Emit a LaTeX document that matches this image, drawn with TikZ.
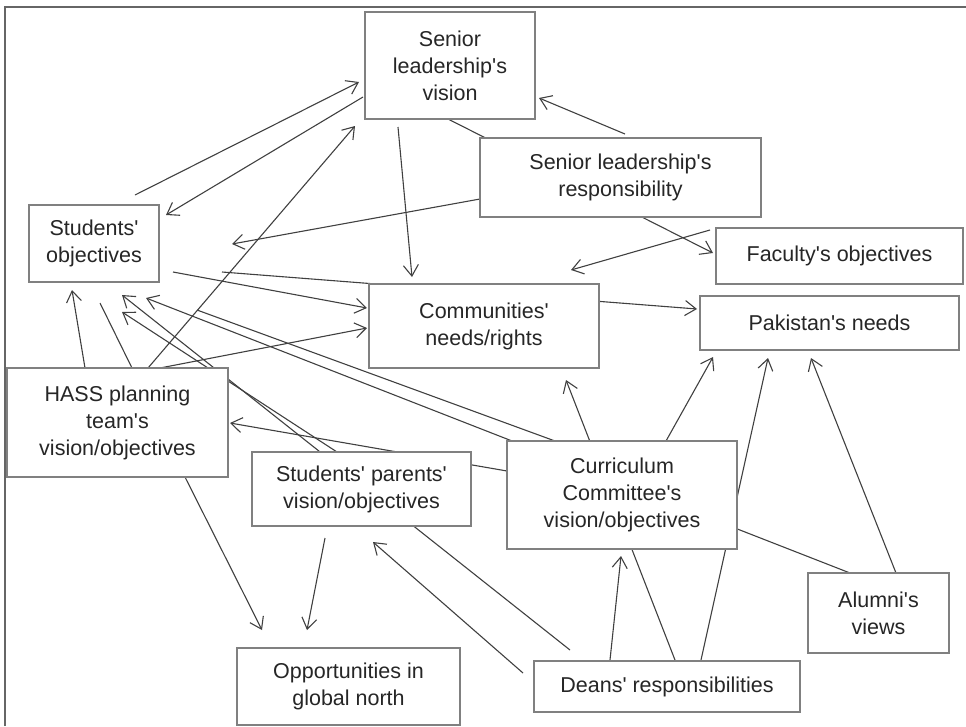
\documentclass[tikz,border=0pt]{standalone}
\usepackage{fontspec}
\setmainfont{Liberation Sans}[Ligatures=TeXOff]
\usetikzlibrary{arrows.meta,backgrounds}

\begin{document}
\begin{tikzpicture}[x=1pt,y=-1pt]
		\tikzstyle{box}=[draw=black!50,line width=1.4pt,fill=white,anchor=north west,outer sep=0pt,inner sep=2pt,align=center,text=black!85,font=\fontsize{21.5}{27}\selectfont]
		\tikzstyle{link}=[draw=black!75,line width=1.1pt]
		\tikzstyle{arrow}=[link,-{Straight Barb[length=11pt,width=15pt]}]

		\useasboundingbox (0,0) rectangle (966,726);
			% frame round the figure
		\draw[black!60,line width=1.5pt] (5,726) -- (5,7) -- (966,7);

			% Draw the boxes
		\node[box,minimum width=170,minimum height=107] (SLV) at (365,12) {Senior\\leadership's\\vision};
		\node[box,minimum width=281,minimum height=79] (SLR) at (480,138) {Senior leadership's\\responsibility};
		\node[box,minimum width=247,minimum height=56] (FO) at (716,228) {Faculty's objectives};
		\node[box,minimum width=259,minimum height=54] (PN) at (700,296) {Pakistan's needs};
		\node[box,minimum width=230,minimum height=84] (CNR) at (369,284) {Communities'\\needs/rights};
		\node[box,minimum width=130,minimum height=77] (SO) at (29,205) {Students'\\objectives};
		\node[box,minimum width=221,minimum height=109] (HASS) at (7,368) {HASS planning\\team's\\vision/objectives};
		\node[box,minimum width=219,minimum height=74] (SPV) at (252,452) {Students' parents'\\vision/objectives};
		\node[box,minimum width=230,minimum height=108] (CC) at (507,441) {Curriculum\\Committee's\\vision/objectives};
		\node[box,minimum width=141,minimum height=80] (AV) at (808,573) {Alumni's\\views};
		\node[box,minimum width=266,minimum height=51] (DR) at (534,661) {Deans' responsibilities};
		\node[box,minimum width=223,minimum height=77] (OGN) at (237,648) {Opportunities in\\global north};

			% Connect the boxes, behind them
			% (each end is given as an offset from the box's top left corner)
		\begin{scope}[on background layer]
		\foreach \src/\sx/\sy/\dst/\dx/\dy in {SO/106/-10/SLV/-6/70, SLV/-2/85/SO/137/10,
			HASS/141/0/SLV/-10/114, SLV/33/115/CNR/43/-7, SLV/83/107/FO/-3/25,
			SLR/145/-4/SLV/174/86, SLR/0/61/SO/203/39, FO/-6/2/CNR/202/-14,
			SO/193/67/PN/-3/13, SO/144/67/CNR/-2/24, HASS/153/0/CNR/-2/44,
			HASS/78/0/SO/43/85, DR/36/-11/SO/93/90, SPV/85/0/SO/93/107,
			AV/42/0/SO/117/93, CC/0/30/HASS/223/55, DR/141/-1/CNR/197/96,
			CC/159/0/PN/13/61, DR/167/-1/PN/68/62, AV/88/0/PN/111/62,
			DR/76/-1/CC/114/115, DR/-11/12/SPV/121/90, SPV/73/86/OGN/70/-18,
			HASS/178/109/OGN/25/-18}
		\draw[arrow] ([shift={(\sx,\sy)}]\src.north west) -- ([shift={(\dx,\dy)}]\dst.north west);

			% links with no arrow head
		\foreach \src/\sx/\sy/\dst/\dx/\dy in {SO/71/98/HASS/125/0, CC/48/0/SO/168/105}
		\draw[link] ([shift={(\sx,\sy)}]\src.north west) -- ([shift={(\dx,\dy)}]\dst.north west);
		\end{scope}
\end{tikzpicture}
\end{document}
